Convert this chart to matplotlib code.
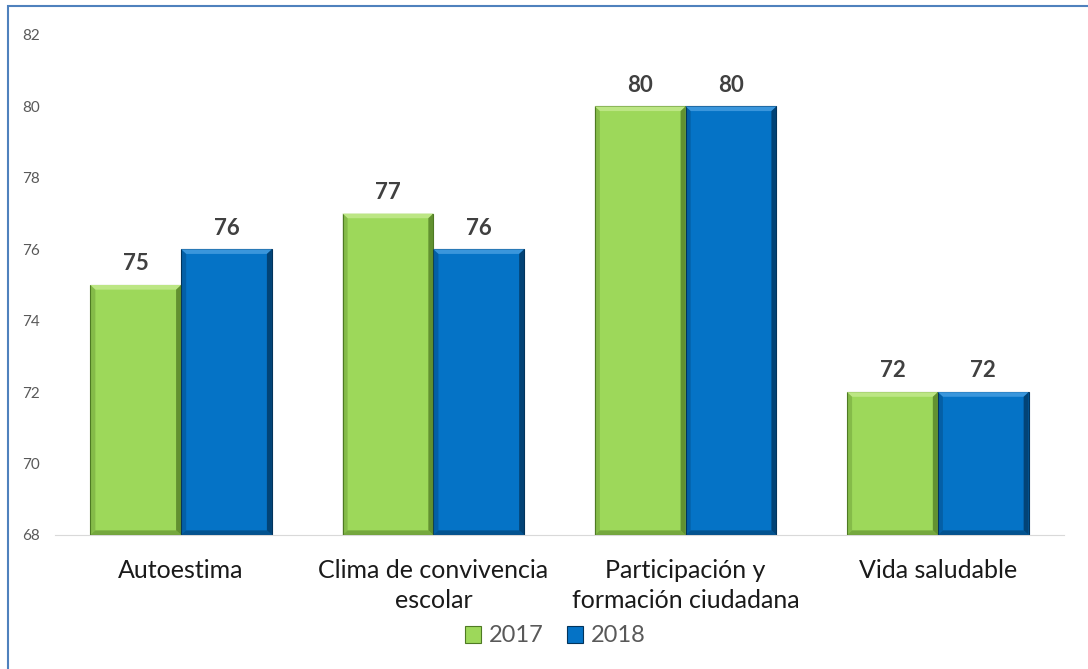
import matplotlib.pyplot as plt
import numpy as np
from matplotlib.patches import Polygon, Rectangle

plt.rcParams['font.family'] = ['Lato', 'DejaVu Sans']

categories = ["Autoestima", "Clima de convivencia\nescolar",
              "Participación y\nformación ciudadana", "Vida saludable"]
years = ["2017", "2018"]
values_2017 = [75, 77, 80, 72]
values_2018 = [76, 76, 80, 72]
y_ticks = [68, 70, 72, 74, 76, 78, 80, 82]

colors = ["#9DD85A", "#0573C6"]
dark = ["#4E7A23", "#02345C"]
light = ["#BCE684", "#3A96DC"]

fig = plt.figure(figsize=(10.88, 6.69), dpi=100)
ax = fig.add_axes([55 / 1088, 1 - 535 / 669, (1064 - 55) / 1088, 500 / 669])

x = np.arange(len(categories))
w = 0.36
bw_x = 0.02    # bevel width in data units (x)
bw_y = 0.13    # bevel width in data units (y)

for i, (vals, year) in enumerate(zip([values_2017, values_2018], years)):
    offs = (i - 0.5) * w
    bars = ax.bar(x + offs, [v - 68 for v in vals], w, bottom=68,
                  color=colors[i], edgecolor=dark[i], linewidth=0.8,
                  label=year, zorder=2)
    for b, v in zip(bars, vals):
        x0, x1 = b.get_x(), b.get_x() + b.get_width()
        y0, y1 = 68, v
        # bevel: light top, dark right and bottom, mid-dark left
        ax.add_patch(Polygon([(x0, y1), (x1, y1), (x1 - bw_x, y1 - bw_y), (x0 + bw_x, y1 - bw_y)],
                             closed=True, facecolor=light[i], edgecolor="none", zorder=3))
        ax.add_patch(Polygon([(x1, y1), (x1, y0), (x1 - bw_x, y0 + bw_y), (x1 - bw_x, y1 - bw_y)],
                             closed=True, facecolor=dark[i], edgecolor="none", alpha=0.75, zorder=3))
        ax.add_patch(Polygon([(x0, y0), (x1, y0), (x1 - bw_x, y0 + bw_y), (x0 + bw_x, y0 + bw_y)],
                             closed=True, facecolor=dark[i], edgecolor="none", alpha=0.5, zorder=3))
        ax.add_patch(Polygon([(x0, y0), (x0, y1), (x0 + bw_x, y1 - bw_y), (x0 + bw_x, y0 + bw_y)],
                             closed=True, facecolor=dark[i], edgecolor="none", alpha=0.3, zorder=3))
        ax.text(b.get_x() + b.get_width() / 2, v + 0.3, str(v), ha="center", va="bottom",
                fontsize=16, fontweight="bold", color="#404040")

ax.set_xlim(-0.5, len(categories) - 0.5)
ax.set_ylim(68, 82)
ax.set_yticks(y_ticks)
ax.set_yticklabels([str(t) for t in y_ticks], fontsize=11, color="#595959")
ax.tick_params(axis="y", length=0, pad=11)
ax.set_xticks(x)
ax.set_xticklabels(categories, fontsize=18, color="#1a1a1a", linespacing=1.4)
ax.tick_params(axis="x", length=0, pad=17)
for s in ["left", "right", "top"]:
    ax.spines[s].set_visible(False)
ax.spines["bottom"].set_color("#D9D9D9")

leg = ax.legend(loc="center", bbox_to_anchor=(555 / 1088, 1 - 636 / 669),
                bbox_transform=fig.transFigure, ncol=2, frameon=False,
                fontsize=17, handlelength=0.7, handleheight=0.7,
                handletextpad=0.3, columnspacing=1.0)
for t in leg.get_texts():
    t.set_color("#595959")

# chart border (left and top visible)
fig.add_artist(Rectangle((8 / 1088, -0.05), 1.1, 1 - 6 / 669 + 0.05,
                         transform=fig.transFigure, fill=False,
                         edgecolor="#4F81BD", linewidth=1.5))

fig.savefig("out.png", dpi=100)
